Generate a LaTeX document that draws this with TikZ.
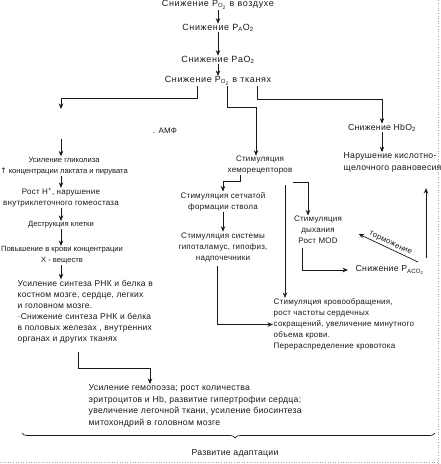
\documentclass[tikz,border=0pt]{standalone}
\usepackage{fontspec}
\setmainfont{Liberation Sans}[LetterSpace=3]
\newfontfamily\widefont{Liberation Sans}[LetterSpace=7]
\newfontfamily\plainfont{Liberation Sans}
\newfontfamily\symfont{DejaVu Sans}
\usetikzlibrary{arrows.meta,decorations.pathreplacing,calc}
\begin{document}
\begin{tikzpicture}[x=1pt,y=-1pt,
  every node/.style={inner sep=0.5pt, font=\fontsize{8}{11}\selectfont, text=black!90},
  ctxt/.style={align=center},
  ltxt/.style={align=left, anchor=west},
  toptxt/.style={align=center, font=\widefont\fontsize{9}{11}\selectfont},
  small/.style={font=\plainfont\fontsize{7.6}{11}\selectfont},
  big/.style={font=\fontsize{8.7}{11.6}\selectfont},
  ln/.style={draw=black!90, line width=0.7pt},
  arr/.style={ln, -{Stealth[length=5.5pt,width=4.5pt]}},
  oarr/.style={ln, -{Stealth[open,length=5.5pt,width=4.5pt]}},
]
\useasboundingbox (0,0) rectangle (440,464);
% frame (scan border)
\draw[dotted, gray!70, line width=0.6pt] (438,0) -- (438,464);
\draw[dotted, gray!70, line width=0.6pt] (0,462.5) -- (438,462.5);

% top chain
\node[toptxt] (t1) at (218,5) {Снижение P\textsubscript{O\textsubscript{2}} в воздухе};
\node[toptxt] (t2) at (218,28) {Снижение P\textsubscript{A}O\textsubscript{2}};
\node[toptxt] (t3) at (218,60) {Снижение PaO\textsubscript{2}};
\node[toptxt] (t4) at (218,81) {Снижение P\textsubscript{O\textsubscript{2}} в тканях};
\draw[arr] (t1) -- (t2);
\draw[arr] (t2) -- (t3);
\draw[arr] (t3) -- (t4);

% left column
\coordinate (lend) at (61,109);
\node (amf) at (165,131) {. АМФ};
\coordinate (g0) at (61,139);
\node[ctxt, small] (glyc) at (64,166) {Усиление гликолиза\\{\symfont ↑} концентрации лактата и пирувата};
\node[ctxt] (rosth) at (61,198) {Рост H\textsuperscript{+}, нарушение\\внутриклеточного гомеостаза};
\node[ctxt, small] (destr) at (61,225) {Деструкция клетки};
\node[ctxt, small] (povysh) at (62,255.5) {Повышение в крови концентрации\\X - веществ};
\node[ltxt, font=\fontsize{8.5}{11}\selectfont] (rnk) at (17,311.5) {Усиление синтеза РНК и белка в\\костном мозге, сердце, легких\\и головном мозге.\\·Снижение синтеза РНК и белка\\в половых железах , внутренних\\органах и других тканях};
\node[ltxt, big] (hem) at (88,406) {Усиление гемопоэза; рост количества\\эритроцитов и Hb, развитие гипертрофии сердца;\\увеличение легочной ткани, усиление биосинтеза\\митохондрий в головном мозге};
\node[ctxt, big] (adapt) at (235,453) {Развитие адаптации};

% middle column
\node[ctxt] (chemo) at (260,165.5) {Стимуляция\\хеморецепторов};
\node[ctxt] (retic) at (223,201.5) {Стимуляция сетчатой\\формации ствола};
\node[ctxt] (hypo) at (223,247) {Стимуляция системы\\гипоталамус, гипофиз,\\надпочечники};
\node[ctxt] (resp) at (318,230) {Стимуляция\\дыхания\\Рост MOD};
\node[ltxt, big] (paco) at (355,270) {Снижение P\textsubscript{ACO\textsubscript{2}}};
\node[ltxt] (circ) at (273,324.5) {Стимуляция кровообращения,\\рост частоты сердечных\\сокращений, увеличение минутного\\объема крови.\\Перераспределение кровотока};

% right column
\node[ctxt, big] (hbo) at (382,128) {Снижение HbO\textsubscript{2}};
\node[ltxt, big] (acid) at (343,162.5) {Нарушение кислотно-\\щелочного равновесия};

% branches from t4
\draw[arr] ([xshift=-21pt]t4.south) -- ++(0,12) -| (lend);
\draw[arr] ([xshift=9pt]t4.south) -- ++(0,21) -| ([xshift=-4pt]chemo.north);
\draw[arr] ([xshift=39pt]t4.south) -- ++(0,13) -| (hbo.north);

% left chain
\draw[arr] (g0) -- (g0 |- glyc.north);
\draw[arr] (glyc.south -| g0) -- (g0 |- rosth.north);
\draw[arr] (rosth.south -| g0) -- (g0 |- destr.north);
\draw[arr] (destr.south -| g0) -- (g0 |- povysh.north);
\draw[arr] (povysh.south -| g0) -- (g0 |- rnk.north);
\draw[arr] ([xshift=61pt,yshift=-8pt]rnk.south west) -- ++(0,17) -| ([xshift=62pt]hem.north west);

% middle chain
\draw[arr] ([xshift=-20pt]chemo.south) -- ++(0,6) -| (retic.north);
\draw[arr] (retic) -- (hypo);
\draw[oarr] ([xshift=-6pt,yshift=-4pt]hypo.south) |- (circ.west);
\coordinate (lv) at ([xshift=25pt,yshift=-10pt]chemo.south);
\draw[oarr] (lv) -- (lv |- circ.north);
\draw[arr] ([xshift=33pt,yshift=-7pt]chemo.south) -| ([xshift=-10pt]resp.north);
\draw[arr] ([xshift=-16pt,yshift=-3pt]resp.south) |- ([xshift=-7pt]paco.west);
\draw[arr] ([xshift=63pt,yshift=8pt]paco.west) -- node[sloped, above, inner sep=1.5pt, font=\fontsize{7.8}{9}\selectfont] (tm) {торможение} ([xshift=16pt,yshift=-4pt]resp.east);

% right chain
\draw[arr] (hbo.south) -- (hbo.south |- acid.north);
\coordinate (ua) at ([xshift=71pt,yshift=12pt]paco.west);
\draw[oarr] (ua) -- ++(0,-70);

% brace
\coordinate (bl) at (22,433);
\coordinate (br) at (435,433);
\draw[ln, decorate, decoration={brace, mirror, amplitude=5pt, aspect=0.516}] (bl) -- (br);
\end{tikzpicture}
\end{document}
